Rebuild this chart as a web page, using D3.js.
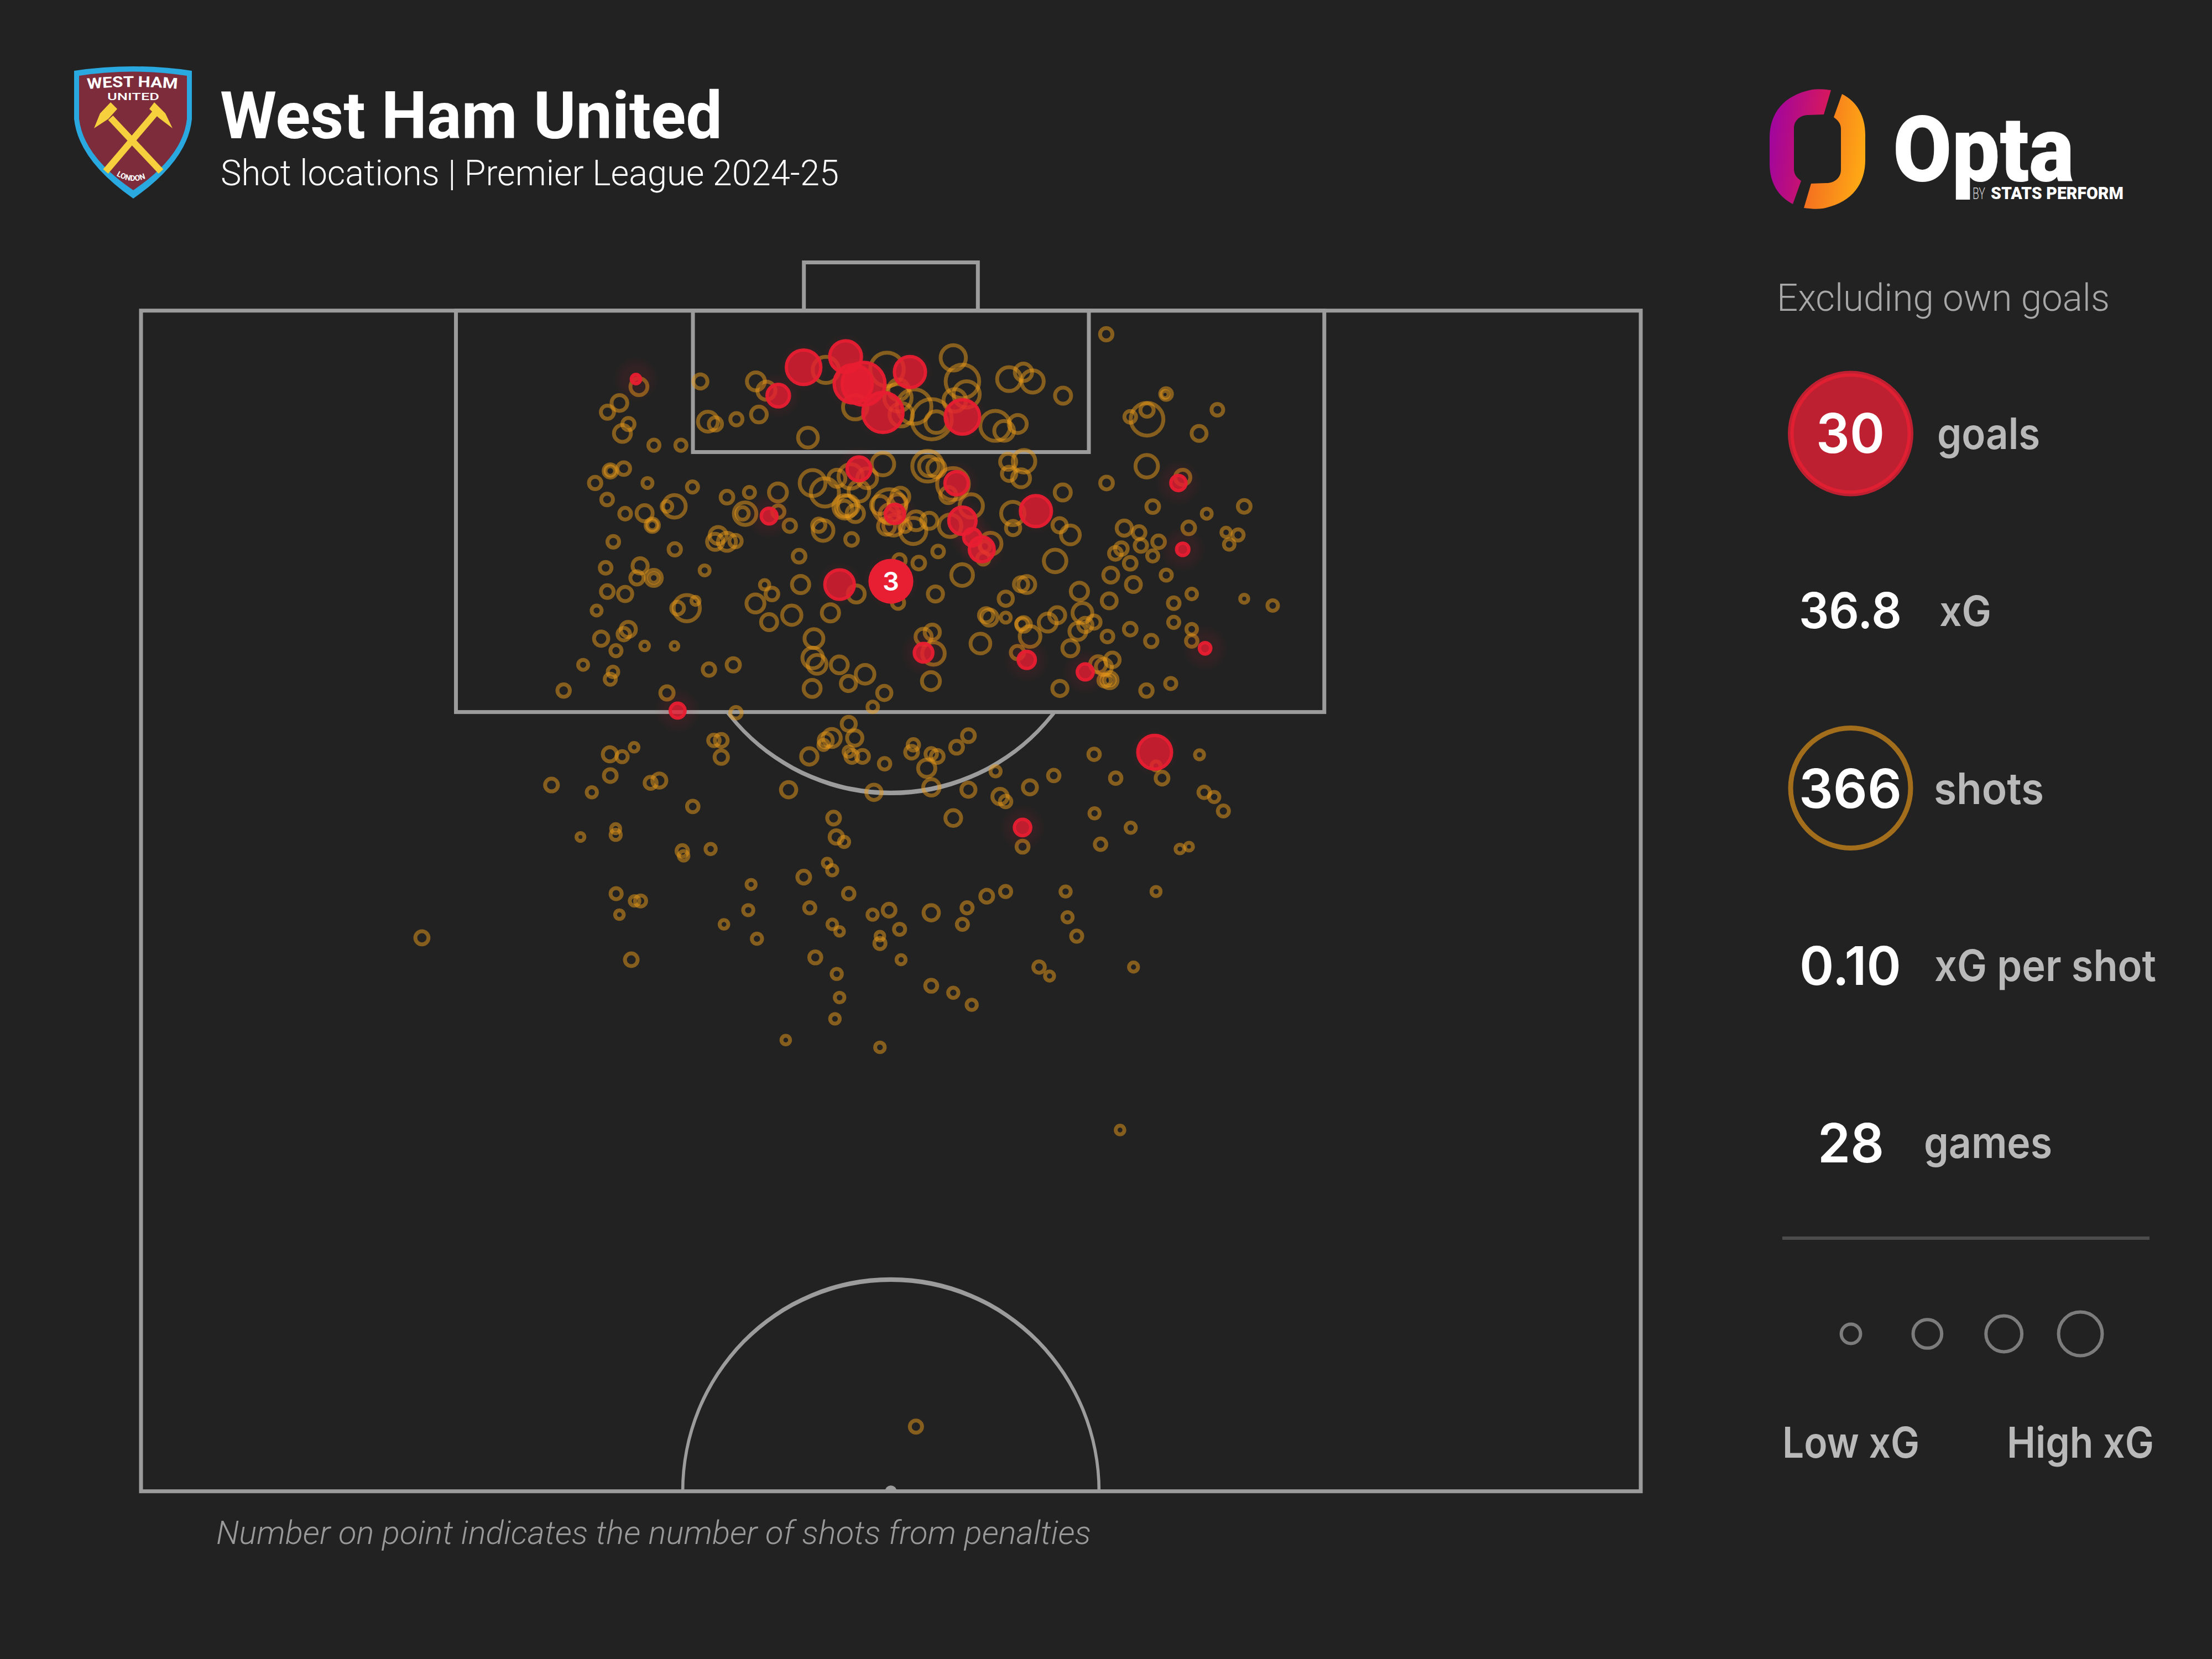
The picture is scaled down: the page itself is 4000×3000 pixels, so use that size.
<!DOCTYPE html>
<html>
<head>
<meta charset="utf-8">
<script src="https://cdn.jsdelivr.net/npm/d3@7"></script>
<style>
  html, body { margin: 0; background: #222222; }
  svg { display: block; }
</style>
</head>
<body>
<svg id="drawing_region"></svg>
<script>
// each row: pitch x (0-100 across), distance from goal line (0-100 along the full pitch), xG
const shotsSixYard = [
  [37.3,3.04,.08],[41.0,3.04,.13],[41.7,3.43,.13],[37.8,4.74,.16],[38.3,4.84,.07],[39.7,4.64,.06],[41.2,4.44,.10],
  [44.47,5.42,.157],[45.66,2.55,.277],[49.74,2.53,.454],[54.16,2.04,.258],[54.77,3.04,.454],[55.05,3.59,.277],
  [54.26,3.84,.204],[57.88,2.94,.23],[58.84,2.65,.12],[59.45,3.04,.2],[47.62,4.13,.239],[50.51,3.39,.172],
  [50.47,3.73,.3],[50.69,4.45,.22],[51.55,4.10,.48],[52.72,4.64,.65],[53.03,4.76,.19],[56.96,4.92,.36],
  [57.55,5.13,.157],[58.46,4.84,.13],[61.48,3.64,.104]
];
const shotsBoxLeft = [
  [33.2,3.26,.116],[31.9,3.95,.10],[31.1,4.34,.07],[32.5,4.84,.06],[32.1,5.24,.116],[34.2,5.74,.05],[36.0,5.74,.05],
  [31.29,6.83,.071],[31.29,6.83,.037],[32.19,6.73,.065],[30.28,7.34,.062],[33.77,7.34,.04],[36.77,7.51,.05],
  [31.08,8.04,.055],[35.57,8.33,.204],[35.07,8.33,.045],[32.28,8.64,.055],[33.58,8.62,.104],[34.09,9.13,.071],
  [34.09,9.13,.04],[39.07,7.94,.065],[31.49,9.83,.055],[35.59,10.15,.062],[38.48,9.56,.116],[38.28,9.83,.104],
  [39.07,9.83,.13],[30.98,10.93,.055],[33.28,10.85,.093],[33.07,11.36,.071],[34.19,11.36,.104],[34.19,11.36,.037],
  [37.58,11.04,.04],[31.09,11.94,.065],[32.28,12.04,.082],[30.38,12.74,.04],[36.39,12.64,.277],[35.78,12.64,.065],
  [36.97,12.33,.026],[30.68,13.93,.082],[32.49,13.54,.093],[32.19,13.74,.062],[31.67,14.44,.05],[33.58,14.24,.03],
  [35.57,14.24,.024],[29.48,15.04,.04],[31.47,15.34,.045],[31.29,15.65,.05],[28.18,16.13,.062],[37.87,15.24,.062],
  [39.49,15.04,.071],[35.07,16.23,.071],[39.64,9.8,.062]
];
const shotsBoxCentre = [
  [49.47,6.54,.204],[44.78,7.34,.27],[45.6,7.74,.32],[46.4,7.14,.116],[47.32,7.06,.24],[48.42,7.14,.157],[47.87,7.69,.172],
  [46.95,8.35,.22],[46.89,8.43,.104],[47.63,8.63,.12],[47.16,8.31,.172],[49.9,8.31,.45],[50.63,7.92,.13],[50.45,8.2,.13],
  [49.28,8.27,.13],[49.9,8.66,.15],[49.71,9.17,.116],[50.18,9.13,.172],[50.94,9.17,.053],[51.68,8.94,.143],[51.49,9.37,.277],
  [52.56,8.94,.104],[53.95,9.15,.204],[55.36,8.31,.22],[56.65,9.91,.19],[56.16,10.54,.06],[56.26,10.03,.045],[52.45,6.63,.38],
  [52.54,6.63,.157],[53.03,6.71,.13],[54.14,7.38,.406],[53.83,7.85,.104],[57.82,6.44,.104],[57.88,6.95,.082],[58.13,8.63,.22],
  [58.15,9.25,.082],[40.57,7.74,.05],[42.47,7.74,.13],[40.28,8.64,.204],[40.11,8.63,.062],[42.49,8.55,.062],[43.26,9.15,.062],
  [45.19,9.13,.071],[45.48,9.35,.172],[47.38,9.73,.065],[43.88,10.44,.065],[50.57,10.62,.062],[51.86,10.73,.065],[53.15,10.24,.055],
  [54.75,11.24,.19],[47.69,12.04,.116],[41.58,11.65,.035],[43.98,11.64,.12],[42.07,12.04,.065],[40.97,12.44,.13],[45.97,12.84,.12],
  [43.39,12.94,.15],[41.88,13.23,.104],[50.48,12.41,.06],[52.97,12.04,.093],[57.66,12.24,.082],[56.35,12.94,.082],[56.57,13.04,.104],
  [57.66,13.04,.04],[58.68,11.63,.082],[58.74,13.31,.053],[44.87,13.93,.143],[44.79,14.75,.172],[45.08,15.02,.143],[46.56,15.04,.116],
  [48.28,15.44,.14],[47.17,15.83,.093],[44.75,16.04,.116],[49.56,16.23,.082],[48.79,16.82,.045],[52.18,13.85,.104],[52.76,13.66,.093],
  [52.84,14.56,.204],[52.67,15.73,.13],[55.97,14.14,.157]
];
const shotsBoxRight = [
  [58.88,6.42,.204],[58.68,7.14,.13],[61.46,7.74,.104],[64.38,7.34,.065],[67.06,6.63,.204],[69.46,7.1,.093],[67.46,8.34,.065],
  [71.06,8.64,.04],[73.56,8.33,.065],[61.25,9.13,.082],[61.97,9.54,.143],[60.95,10.64,.204],[65.56,9.25,.093],[66.55,9.44,.065],
  [66.67,9.99,.062],[67.85,9.83,.065],[65.37,10.12,.065],[64.97,10.32,.065],[65.96,10.74,.065],[67.46,10.43,.05],[69.86,9.24,.065],
  [72.35,9.43,.035],[73.15,9.54,.05],[72.56,9.94,.045],[68.36,11.24,.05],[64.66,11.24,.09],[66.17,11.64,.09],[70.06,12.04,.045],
  [68.86,12.43,.055],[73.56,12.24,.026],[75.46,12.53,.045],[68.86,13.24,.05],[70.06,13.53,.045],[70.06,14.03,.053],[67.36,14.03,.062],
  [64.56,12.33,.09],[65.96,13.53,.065],[64.44,13.84,.055],[62.57,11.93,.12],[62.77,12.84,.157],[62.96,13.35,.082],[63.54,13.23,.071],
  [62.47,13.62,.116],[61.97,14.34,.104],[61.09,12.94,.104],[60.46,13.25,.13],[58.85,13.33,.085],[59.28,13.84,.172],[59.06,11.64,.116],
  [58.44,14.52,.071],[61.27,16.04,.093],[63.82,15.02,.104],[64.2,15.13,.104],[64.77,14.83,.085],[64.25,15.7,.062],[64.58,15.69,.104],
  [64.58,15.69,.045],[67.04,16.13,.062],[68.66,15.83,.05],[64.36,1.04,.062],[68.35,3.57,.055],[68.28,3.59,.02],[67.08,4.64,.43],
  [67.08,4.25,.071],[65.96,4.54,.055],[71.77,4.24,.055],[70.55,5.24,.09]
];
const shotsOutsideBox = [
  [39.67,17.07,.053],[47.19,17.54,.08],[46.06,18.14,.13],[45.66,18.24,.08],[45.51,18.43,.042],[47.59,18.14,.095],[44.56,18.92,.108],
  [47.19,18.72,.042],[47.4,18.92,.066],[48.11,18.92,.066],[49.58,19.23,.053],[51.5,18.43,.053],[51.38,18.74,.066],[52.69,18.81,.053],
  [53.09,18.92,.066],[54.38,18.53,.066],[55.17,18.04,.066],[52.39,19.42,.12],[52.7,20.23,.108],[48.87,20.44,.095],[55.17,20.33,.08],
  [56.98,19.55,.042],[57.28,20.62,.095],[57.65,20.83,.053],[59.27,20.23,.08],[60.86,19.73,.053],[67.68,19.32,.033],[68.08,19.84,.066],
  [63.55,18.83,.053],[64.99,19.84,.053],[70.58,18.85,.033],[70.89,20.44,.053],[71.56,20.64,.042],[72.17,21.23,.05],[63.58,21.33,.042],
  [65.99,21.94,.042],[63.98,22.64,.053],[69.27,22.84,.03],[69.88,22.74,.025],[58.78,22.74,.058],[54.16,21.53,.1],[46.18,21.53,.066],
  [46.36,22.33,.072],[46.88,22.54,.042],[43.18,20.33,.095],[38.2,18.24,.053],[38.69,18.24,.066],[38.69,18.95,.072],[32.88,18.53,.03],
  [31.26,18.83,.08],[32.08,18.93,.05],[31.29,19.73,.066],[27.37,20.13,.066],[30.06,20.44,.042],[34.56,19.94,.08],[33.98,20.04,.058],
  [36.79,21.04,.053],[31.65,21.98,.033],[31.65,22.24,.042],[29.3,22.33,.025],[36.09,22.92,.053],[36.18,23.13,.037],[37.98,22.84,.042],
  [45.75,23.43,.03],[46.09,23.74,.042],[44.19,24.03,.066],[40.68,24.34,.033],[47.19,24.73,.053],[31.68,24.73,.05],[32.91,25.04,.037],
  [33.31,25.04,.05],[31.9,25.62,.03],[40.49,25.43,.042],[38.87,26.03,.03],[41.07,26.64,.042],[44.59,25.33,.05],[48.78,25.62,.042],
  [49.88,25.43,.066],[52.69,25.54,.095],[50.58,26.24,.05],[46.09,26.03,.037],[46.58,26.33,.03],[49.27,26.53,.03],[49.27,26.84,.05],
  [54.77,26.03,.05],[55.08,25.33,.05],[56.39,24.84,.066],[57.65,24.64,.05],[61.65,24.64,.042],[67.68,24.64,.033],[61.78,25.73,.042],
  [62.39,26.53,.05],[59.88,27.84,.053],[60.58,28.22,.033],[66.18,27.84,.033],[32.69,27.53,.065],[44.96,27.43,.058],[50.68,27.53,.033],
  [46.39,28.13,.042],[52.69,28.63,.058],[54.16,28.93,.042],[55.39,29.44,.042],[46.58,29.13,.037],[46.27,30.03,.037],[42.99,30.93,.03],
  [49.27,31.24,.037],[18.73,26.6,.07],[65.28,34.74,.03],[51.67,47.3,.06]
];
const goals = [
  [44.18,2.44,.48],[46.98,1.99,.406],[47.49,3.14,.59],[48.18,3.14,.74],[49.47,4.35,.65],[51.27,2.64,.39],[54.77,4.54,.48],
  [42.49,3.64,.204],[33.0,2.94,.035],[47.87,6.74,.23],[50.27,8.65,.15],[54.77,8.94,.3],[55.43,9.64,.12],[56.06,10.15,.25],
  [54.38,7.35,.22],[41.88,8.74,.1],[46.58,11.64,.35],[35.78,16.98,.09],[59.67,8.53,.39],[69.17,7.34,.093],[69.46,10.15,.062],
  [70.95,14.34,.053],[59.06,14.83,.12],[52.18,14.53,.14],[62.96,15.34,.104],[67.59,18.74,.46],[58.78,21.93,.108]
];
const penalties = [[50,11.5,.7,3]];
const shots = [].concat(shotsSixYard, shotsBoxLeft, shotsBoxCentre, shotsBoxRight, shotsOutsideBox);

const statValues = ['30', '36.8', '366', '0.10', '28'];
const statLabels = ['goals', 'xG', 'shots', 'xG per shot', 'games'];
const legendXg = [.15, .33, .52, .77];
const legendLabels = ['Low xG', 'High xG'];

const width = 4000, height = 3000;
const svg = d3.select('#drawing_region').attr('width', width).attr('height', height);
svg.append('rect').attr('width', width).attr('height', height).attr('fill', '#222222');
const defs = svg.append('defs');

const x = d3.scaleLinear().domain([0, 100]).range([255, 2967]);
const y = d3.scaleLinear().domain([0, 50]).range([560, 2695]);
const r = d3.scaleSqrt().domain([0, 1]).range([0, 45]);

function label(text, px, py, size, opts) {
  opts = opts || {};
  const t = svg.append('text')
    .attr('x', px).attr('y', py)
    .attr('font-family', opts.family || 'Inter')
    .attr('font-size', size)
    .attr('font-weight', opts.weight || 400)
    .attr('font-style', opts.style || 'normal')
    .attr('fill', opts.fill || '#ffffff')
    .text(text);
  if (opts.width) t.attr('textLength', opts.width).attr('lengthAdjust', 'spacingAndGlyphs');
  return t;
}

// ---- pitch
const lineColour = '#9c9c9c';
const pitchTop = 0.04, pitchBottom = 50.04, sixYard = 6.03, boxDepth = 17.04;
const pitch = svg.append('g').attr('fill', 'none').attr('stroke', lineColour).attr('stroke-width', 7);

const pitchRects = [
  { x0: 0, x1: 100, y0: pitchTop, y1: pitchBottom },
  { x0: 21, x1: 78.9, y0: pitchTop, y1: boxDepth },
  { x0: 36.8, x1: 63.2, y0: pitchTop, y1: sixYard }
];
pitch.selectAll('rect.area')
  .data(pitchRects)
  .join('rect')
  .attr('class', 'area')
  .attr('x', d => x(d.x0)).attr('y', d => y(d.y0))
  .attr('width', d => x(d.x1) - x(d.x0)).attr('height', d => y(d.y1) - y(d.y0));

pitch.append('path')
  .attr('d', d3.line()([[x(44.2), y(pitchTop)], [x(44.2), y(-2)], [x(55.8), y(-2)], [x(55.8), y(pitchTop)]]));

// arcs get thicker along the length of the pitch, so they are filled bands
const arcRx = x(13.88) - x(0), arcRy = y(8.97) - y(0);
function band(cx, cy, rx, ry, upper) {
  const tx = 2.8, ty = 4.2, s = upper ? 1 : 0;
  return `M${cx - rx - tx},${cy} A${rx + tx},${ry + ty} 0 0 ${s} ${cx + rx + tx},${cy}`
    + ` L${cx + rx - tx},${cy} A${rx - tx},${ry - ty} 0 0 ${1 - s} ${cx - rx + tx},${cy} Z`;
}
defs.append('clipPath').attr('id', 'belowBox').append('rect')
  .attr('x', 0).attr('y', y(boxDepth)).attr('width', width).attr('height', 800);
defs.append('clipPath').attr('id', 'insidePitch').append('rect')
  .attr('x', 0).attr('y', 0).attr('width', width).attr('height', y(pitchBottom));

svg.append('path').attr('d', band(x(50), y(11.5), arcRx, arcRy, false))
  .attr('fill', lineColour).attr('clip-path', 'url(#belowBox)');
svg.append('path').attr('d', band(x(50), y(pitchBottom), arcRx, arcRy, true))
  .attr('fill', lineColour);
svg.append('circle').attr('cx', x(50)).attr('cy', y(pitchBottom)).attr('r', 10.5)
  .attr('fill', lineColour).attr('clip-path', 'url(#insidePitch)');

// ---- shots
svg.append('g').selectAll('circle')
  .data(shots)
  .join('circle')
  .attr('cx', d => x(d[0]))
  .attr('cy', d => y(d[1]))
  .attr('r', d => r(d[2]))
  .attr('fill', 'none')
  .attr('stroke', '#ea9a18')
  .attr('stroke-opacity', .5)
  .attr('stroke-width', 7);

// ---- goals
const glow = defs.append('radialGradient').attr('id', 'goalGlow');
glow.append('stop').attr('offset', '0%').attr('stop-color', '#e81e32').attr('stop-opacity', .08);
glow.append('stop').attr('offset', '55%').attr('stop-color', '#e81e32').attr('stop-opacity', .08);
glow.append('stop').attr('offset', '100%').attr('stop-color', '#e81e32').attr('stop-opacity', 0);

svg.append('g').selectAll('circle')
  .data(goals.concat(penalties))
  .join('circle')
  .attr('cx', d => x(d[0]))
  .attr('cy', d => y(d[1]))
  .attr('r', d => Math.max(42, r(d[2]) + 14))
  .attr('fill', 'url(#goalGlow)');

svg.append('g').selectAll('circle')
  .data(goals)
  .join('circle')
  .attr('cx', d => x(d[0]))
  .attr('cy', d => y(d[1]))
  .attr('r', d => r(d[2]))
  .attr('fill', '#e81e32')
  .attr('fill-opacity', .78)
  .attr('stroke', '#e81e32')
  .attr('stroke-opacity', .95)
  .attr('stroke-width', 6);

const penGroup = svg.append('g').selectAll('g')
  .data(penalties)
  .join('g');
penGroup.append('circle')
  .attr('cx', d => x(d[0]))
  .attr('cy', d => y(d[1]))
  .attr('r', d => r(d[2]) + 3)
  .attr('fill', '#e81e32');
penGroup.append('text')
  .attr('x', d => x(d[0]))
  .attr('y', d => y(d[1]) + 17)
  .attr('text-anchor', 'middle')
  .attr('font-family', 'Inter')
  .attr('font-weight', 600)
  .attr('font-size', 47)
  .attr('fill', '#ffffff')
  .text(d => d[3]);

// ---- header
label('West Ham United', 398, 250, 118, { family: 'Roboto', weight: 700, width: 908 });
label('Shot locations | Premier League 2024-25', 399, 335, 64, { family: 'Roboto', weight: 300, width: 1118 });
label('Number on point indicates the number of shots from penalties', 391, 2792, 60,
  { family: 'Roboto', weight: 300, style: 'italic', fill: '#9a9a9a', width: 1582 });
label('Excluding own goals', 3213, 562, 68, { family: 'Roboto', weight: 300, fill: '#a8a8a8', width: 602 });

// ---- crest
const crest = svg.append('g');
crest.append('path')
  .attr('d', 'M134,128 Q241,112 347,128 L347,215 Q340,290 241,359 Q142,290 134,215 Z')
  .attr('fill', '#29a9e0');
crest.append('path')
  .attr('d', 'M143,137 Q241,122 338,137 L338,215 Q331,283 241,344 Q151,283 143,215 Z')
  .attr('fill', '#7c2c3b');
crest.selectAll('line.handle')
  .data([[191, 310, 282, 203], [291, 310, 200, 213]])
  .join('line')
  .attr('class', 'handle')
  .attr('x1', d => d[0]).attr('y1', d => d[1]).attr('x2', d => d[2]).attr('y2', d => d[3])
  .attr('stroke', '#f6d13d').attr('stroke-width', 12);
crest.append('path').attr('d', 'M200,185 L212,197 L196,215 L170,232 L181,205 Z').attr('fill', '#f6d13d');
crest.append('path').attr('d', 'M279,185 L270,197 L287,213 L312,232 L299,205 Z').attr('fill', '#f6d13d');
defs.append('path').attr('id', 'crestTop').attr('d', 'M158,161 Q241,153 324,161');
defs.append('path').attr('id', 'crestBottom').attr('d', 'M205,314 Q242,340 279,314');
crest.append('text')
  .attr('font-family', 'Roboto').attr('font-weight', 700).attr('font-size', 27).attr('fill', '#ffffff')
  .attr('textLength', 163).attr('lengthAdjust', 'spacingAndGlyphs')
  .append('textPath').attr('href', '#crestTop').text('WEST HAM');
crest.append('text')
  .attr('x', 194).attr('y', 181)
  .attr('font-family', 'Roboto').attr('font-weight', 500).attr('font-size', 19).attr('fill', '#ffffff')
  .attr('textLength', 94).attr('lengthAdjust', 'spacingAndGlyphs')
  .text('UNITED');
crest.append('text')
  .attr('font-family', 'Roboto').attr('font-weight', 700).attr('font-size', 14).attr('fill', '#ffffff')
  .append('textPath').attr('href', '#crestBottom').attr('startOffset', '8%').text('LONDON');

// ---- opta logo
const gradLeft = defs.append('linearGradient').attr('id', 'optaLeft').attr('x1', 0).attr('x2', 1).attr('y1', .35).attr('y2', .6);
gradLeft.append('stop').attr('offset', '0%').attr('stop-color', '#a0059f');
gradLeft.append('stop').attr('offset', '100%').attr('stop-color', '#e01b52');
const gradRight = defs.append('linearGradient').attr('id', 'optaRight').attr('x1', 1).attr('x2', 0).attr('y1', .65).attr('y2', .4);
gradRight.append('stop').attr('offset', '0%').attr('stop-color', '#f26522');
gradRight.append('stop').attr('offset', '100%').attr('stop-color', '#ffab14');
const optaMark = 'M3311,163 Q3290,160 3277,162 C3225,172 3200,205 3200,250 L3200,295 C3200,330 3215,355 3242,369 '
  + 'L3257,327 C3250,322 3244,316 3244,306 L3244,232 C3244,218 3255,208 3270,208 L3298,207 Z';
svg.append('path').attr('d', optaMark).attr('fill', 'url(#optaLeft)');
svg.append('path').attr('d', optaMark).attr('fill', 'url(#optaRight)')
  .attr('transform', 'rotate(180 3286.5 269.5)');
label('Opta', 3423, 327, 166, { family: 'Roboto', weight: 900, width: 328 });
label('BY', 3567, 360, 30, { family: 'Roboto', weight: 300, fill: '#d0d0d0', width: 23 });
label('STATS PERFORM', 3600, 360, 32, { family: 'Roboto', weight: 900, width: 240 });

// ---- stats panel
svg.append('circle').attr('cx', 3346.5).attr('cy', 784).attr('r', 113.5).attr('fill', '#bd2030');
svg.append('circle').attr('cx', 3346.5).attr('cy', 784).attr('r', 106).attr('fill', 'none')
  .attr('stroke', '#e01f33').attr('stroke-width', 6);
svg.append('circle').attr('cx', 3346.5).attr('cy', 1425).attr('r', 108.5).attr('fill', 'none')
  .attr('stroke', '#a36e1c').attr('stroke-width', 9);

const numberPos = [[3284, 819, 124, 99], [3253, 1136, 186, 90], [3253, 1461, 186, 98], [3254, 1781, 184, 96], [3287, 2102, 120, 98]];
const labelPos = [[3503, 812, 186, 78], [3507, 1132, 94, 76], [3497, 1454, 199, 78], [3498, 1774, 401, 78], [3479, 2094, 232, 78]];
statValues.forEach((v, i) => {
  const p = numberPos[i];
  label(v, p[0], p[1], p[3], { weight: 600, width: p[2] });
});
statLabels.forEach((v, i) => {
  const p = labelPos[i];
  label(v, p[0], p[1], p[3], { weight: 600, fill: '#b9b9b9', width: p[2] });
});

svg.append('line').attr('x1', 3223).attr('x2', 3887).attr('y1', 2239).attr('y2', 2239)
  .attr('stroke', '#4c4c4c').attr('stroke-width', 6);

// ---- size legend
const legendX = d3.scalePoint().domain(legendXg).range([3347, 3762]);
svg.append('g').selectAll('circle')
  .data(legendXg)
  .join('circle')
  .attr('cx', d => legendX(d))
  .attr('cy', 2412)
  .attr('r', d => r(d))
  .attr('fill', 'none')
  .attr('stroke', '#7c7c7c')
  .attr('stroke-width', 6);
label(legendLabels[0], 3223, 2636, 77, { weight: 600, fill: '#b9b9b9', width: 248 });
label(legendLabels[1], 3629, 2636, 77, { weight: 600, fill: '#b9b9b9', width: 266 });
</script>
</body>
</html>
